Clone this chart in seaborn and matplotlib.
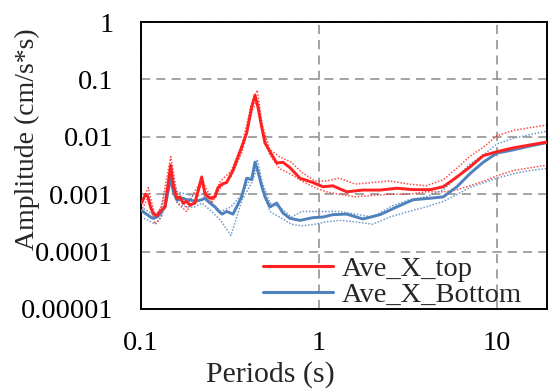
import matplotlib
matplotlib.use("Agg")
import matplotlib.pyplot as plt
import matplotlib.ticker as mticker
import numpy as np
import pandas as pd
import seaborn as sns

# Periods (s) for the averaged spectra
period = [0.1009, 0.1060, 0.1095, 0.1130, 0.1168, 0.1230, 0.1279, 0.1364, 0.1469, 0.1520,
          0.1587, 0.1660, 0.1722, 0.1800, 0.1885, 0.2010, 0.2193, 0.2288, 0.2380, 0.2442,
          0.2605, 0.2708, 0.2850, 0.3030, 0.3288, 0.3677, 0.3924, 0.4187, 0.4371, 0.4541,
          0.4761, 0.4972, 0.5305, 0.5790, 0.6277, 0.6869, 0.7817, 0.9235, 1.0515, 1.197,
          1.431, 1.766, 2.202, 2.735, 3.38, 4.22, 4.99, 5.96, 7.07, 8.37, 10.0, 12.3, 15.3, 19.0]

ave_top = [0.0007, 0.0010, 0.0009, 0.0006, 0.00047, 0.00042, 0.0005, 0.0006, 0.0032, 0.0014,
           0.00085, 0.0009, 0.0007, 0.00075, 0.00065, 0.0007, 0.002, 0.001, 0.0009, 0.00085,
           0.0009, 0.0013, 0.0015, 0.0016, 0.0026, 0.0066, 0.0116, 0.033, 0.053, 0.033,
           0.015, 0.0078, 0.0055, 0.0035, 0.0036, 0.0029, 0.0019, 0.0016, 0.00135, 0.0014,
           0.0011, 0.00118, 0.00118, 0.00127, 0.0012, 0.0012, 0.00135, 0.002, 0.003, 0.0047,
           0.0055, 0.0064, 0.0072, 0.0081]

ave_bottom = [0.00052, 0.00046, 0.00043, 0.0004, 0.00038, 0.0004, 0.00045, 0.0006, 0.0019, 0.0011,
              0.0008, 0.0008, 0.00085, 0.0008, 0.0008, 0.00075, 0.0008, 0.00085, 0.00075, 0.0007,
              0.0006, 0.00052, 0.00045, 0.0005, 0.00045, 0.0009, 0.0019, 0.0018, 0.0036, 0.0025,
              0.0014, 0.0009, 0.0006, 0.0007, 0.00047, 0.00038, 0.00035, 0.00039, 0.0004, 0.00044,
              0.00045, 0.00037, 0.00044, 0.0006, 0.0008, 0.00085, 0.0009, 0.00135, 0.0023, 0.0036,
              0.0052, 0.0059, 0.0069, 0.0079]

# Periods (s) for the individual records
period_rec = [0.1, 0.11, 0.12, 0.13, 0.147, 0.16, 0.18, 0.2, 0.22, 0.25, 0.28, 0.32,
              0.37, 0.42, 0.45, 0.48, 0.53, 0.6, 0.7, 0.8, 0.95, 1.1, 1.3, 1.6, 2.0,
              2.5, 3.2, 4.0, 5.0, 6.0, 7.0, 8.5, 10, 12.5, 15.5, 19]

top_rec1 = [0.0007, 0.0013, 0.0004, 0.0006, 0.0045, 0.0009, 0.0006, 0.0011, 0.0018,
            0.0008, 0.0017, 0.0025, 0.0075, 0.04, 0.065, 0.016, 0.006, 0.0045, 0.0036,
            0.0024, 0.0017, 0.0017, 0.0019, 0.0015, 0.0016, 0.0017, 0.0015, 0.0014,
            0.0018, 0.0029, 0.0045, 0.0068, 0.0105, 0.013, 0.0145, 0.016]
top_rec2 = [0.0005, 0.0009, 0.0003, 0.0004, 0.0025, 0.0007, 0.0005, 0.0008, 0.0015,
            0.0007, 0.0013, 0.002, 0.0055, 0.028, 0.045, 0.013, 0.0048, 0.0028, 0.0022,
            0.0017, 0.0013, 0.0011, 0.001, 0.0009, 0.00095, 0.001, 0.001, 0.0011,
            0.0011, 0.0012, 0.0014, 0.0017, 0.0021, 0.0026, 0.0029, 0.0032]
bot_rec1 = [0.0006, 0.0005, 0.0004, 0.0006, 0.0025, 0.0011, 0.001, 0.0009, 0.001,
            0.0007, 0.0005, 0.0006, 0.001, 0.0021, 0.004, 0.0016, 0.0007, 0.0006, 0.0004,
            0.0005, 0.0005, 0.0005, 0.0005, 0.00045, 0.0004, 0.0006, 0.0008, 0.0009,
            0.0012, 0.002, 0.0033, 0.005, 0.0075, 0.0095, 0.011, 0.0125]
bot_rec2 = [0.0004, 0.00035, 0.0003, 0.0004, 0.0018, 0.0007, 0.0006, 0.0006, 0.0007,
            0.0005, 0.00035, 0.00019, 0.0008, 0.0016, 0.003, 0.0012, 0.0005, 0.0004, 0.0003,
            0.00028, 0.0003, 0.00033, 0.00035, 0.00033, 0.0003, 0.0004, 0.0005, 0.0006,
            0.00075, 0.001, 0.0013, 0.0016, 0.0019, 0.0023, 0.0026, 0.0028]

xticks = [0.1, 1, 10]
xtick_labels = ["0.1", "1", "10"]
yticks = [0.00001, 0.0001, 0.001, 0.01, 0.1, 1]
ytick_labels = ["0.00001", "0.0001", "0.001", "0.01", "0.1", "1"]

RED = "#FF2020"
BLUE = "#4F81BD"

sns.set_style("white")
plt.rcParams["font.family"] = ["Liberation Serif", "DejaVu Serif"]

fig = plt.figure(figsize=(5.49, 3.91), dpi=100)
ax = fig.add_axes([141 / 549, 1 - 309 / 391, 406 / 549, 287 / 391])

# individual records as thin dotted lines
for vals, col in [(top_rec1, RED), (top_rec2, RED), (bot_rec1, BLUE), (bot_rec2, BLUE)]:
    sns.lineplot(x=period_rec, y=vals, ax=ax, color=col, lw=1.1, linestyle=(0, (1, 1.1)),
                 alpha=0.8, legend=False, zorder=2)

# averaged spectra
sns.lineplot(x=period, y=ave_top, ax=ax, color=RED, lw=2.1, label="Ave_X_top", zorder=4)
sns.lineplot(x=period, y=ave_bottom, ax=ax, color=BLUE, lw=2.1, label="Ave_X_Bottom", zorder=3)

ax.set_xscale("log")
ax.set_yscale("log")
ax.set_xlim(0.1, 19.1)
ax.set_ylim(0.00001, 1)

ax.xaxis.set_major_locator(mticker.FixedLocator(xticks))
ax.xaxis.set_major_formatter(mticker.FixedFormatter(xtick_labels))
ax.yaxis.set_major_locator(mticker.FixedLocator(yticks))
ax.yaxis.set_major_formatter(mticker.FixedFormatter(ytick_labels))
ax.xaxis.set_minor_locator(mticker.LogLocator(base=10, subs=np.arange(2, 10), numticks=20))
ax.yaxis.set_minor_locator(mticker.LogLocator(base=10, subs=np.arange(2, 10), numticks=20))
ax.xaxis.set_minor_formatter(mticker.NullFormatter())
ax.yaxis.set_minor_formatter(mticker.NullFormatter())

ax.tick_params(axis="both", which="major", direction="in", length=6, width=1.2,
               labelsize=20.5, colors="black", top=False, right=False)
ax.tick_params(axis="both", which="minor", direction="in", length=4, width=1.0,
               top=False, right=False)
ax.tick_params(axis="y", which="major", pad=20)
ax.tick_params(axis="x", which="major", pad=16)

ax.grid(True, which="major", color="#8a8a8a", linestyle=(0, (6, 4)), lw=1.1, zorder=1)
ax.set_axisbelow(True)

for sp in ax.spines.values():
    sp.set_visible(True)
    sp.set_color("black")
    sp.set_linewidth(1.4)

ax.set_xlabel("Periods (s)", fontsize=21.5)
ax.set_ylabel("Amplitude (cm/s*s)", fontsize=20)
ax.xaxis.set_label_coords(0.318, -0.183)
ax.yaxis.set_label_coords(-0.249, 0.59)

leg = ax.legend(loc="center left", bbox_to_anchor=(263 / 549, 1 - 282 / 391),
                bbox_transform=fig.transFigure, frameon=False, fontsize=20.5,
                handlelength=2.45, handletextpad=0.3, labelspacing=0.0,
                borderpad=0, borderaxespad=0)
for h in leg.get_lines():
    h.set_linewidth(2.2)

fig.savefig("out.png", dpi=100)
